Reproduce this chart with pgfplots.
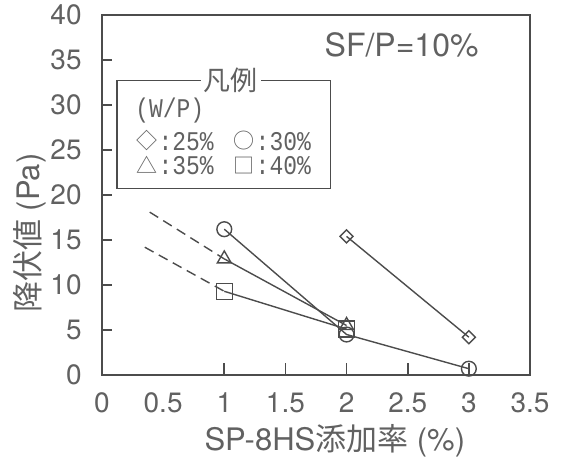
\documentclass[border=0pt]{standalone}
\usepackage{fontspec}
\setmainfont{TeX Gyre Heros}
\newfontfamily\cjk{Noto Sans CJK JP}
\newfontfamily\legfont[FakeStretch=0.85]{Liberation Mono}
\usepackage{pgfplots}
\pgfplotsset{compat=1.18}
\definecolor{ink}{gray}{0.3}
\definecolor{txt}{gray}{0.38}
\newcommand{\sym}[1]{\raisebox{0.6pt}{\smash{\cjk\fontsize{10.5}{12}\selectfont #1}}\hspace{0.5pt}}
\begin{document}
\begin{tikzpicture}
\begin{axis}[name=ax, scale only axis, width=214pt, height=180pt,
  xmin=0, xmax=3.5, ymin=0, ymax=40,
  xtick={0,0.5,1,1.5,2,2.5,3,3.5},
  ytick={0,5,10,15,20,25,30,35,40},
  minor xtick={1,1.5,2,2.5,3},
  tick align=inside, tick pos=left,
  major tick length=5pt, minor tick length=6pt,
  axis line style={ink, line width=0.8pt},
  every tick/.style={ink, line width=0.8pt},
  every major x tick/.append style={draw=none},
  /pgf/number format/assume math mode=true,
  xticklabel style={font=\fontsize{14}{16}\selectfont, text=txt, inner sep=1pt, yshift=-7.5pt},
  yticklabel style={font=\fontsize{14}{16}\selectfont, text=txt, inner sep=1pt, xshift=-9pt},
  xlabel={SP-8HS{\cjk 添加率} (\%)},
  xlabel style={at={(axis description cs:0.544,-0.183)}, anchor=center, font=\fontsize{15.5}{18}\selectfont, text=txt},
  ylabel={{\cjk 降伏値} (Pa)},
  ylabel style={at={(axis description cs:-0.168,0.394)}, anchor=center, font=\fontsize{15.5}{18}\selectfont, text=txt},
  clip=false,
]
% W/P = 25%
\addplot[ink, line width=0.7pt, mark=square, mark size=2.3pt, mark options={rotate=45, solid}] coordinates {(2,15.4) (3,4.2)};
% W/P = 30%
\addplot[ink, line width=0.7pt, mark=o, mark size=3.7pt, mark options={solid}] coordinates {(1,16.2) (2,4.5) (3,0.7)};
% W/P = 35%
\addplot[ink, line width=0.7pt, mark=triangle, mark size=4pt, mark options={solid}] coordinates {(1,12.9) (2,5.5)};
% W/P = 40%
\addplot[ink, line width=0.7pt, mark=square, mark size=4pt, mark options={solid}] coordinates {(1,9.3) (2,5.1)};
% extrapolations
\addplot[ink, line width=0.7pt, dash pattern=on 5pt off 3pt] coordinates {(0.39,18.1) (1,12.9)};
\addplot[ink, line width=0.7pt, dash pattern=on 5pt off 3pt] coordinates {(0.35,14.2) (1,9.3)};

\node[text=txt, font=\fontsize{16}{18}\selectfont, anchor=center] at (axis description cs:0.70,0.917) {SF/P=10\%};

\draw[ink, line width=0.6pt] (axis description cs:0.035,0.819) rectangle (axis description cs:0.533,0.519);
\node[fill=white, inner xsep=1.5pt, inner ysep=0pt, text=txt, font=\cjk\fontsize{13.5}{14}\selectfont] at (axis description cs:0.301,0.819) {凡例};
\node[anchor=base west, inner sep=0pt, text=txt, font=\legfont\fontsize{13.5}{14}\selectfont] at (axis description cs:0.077,0.714) {(W/P)};
\node[anchor=base west, inner sep=0pt, text=txt, font=\legfont\fontsize{13.5}{11.5}\selectfont] at (axis description cs:0.080,0.625)
  {\begin{tabular}[t]{@{}l@{\hspace{10pt}}l@{}}
   \sym{◇}:25\% & \sym{○}:30\%\\
   \sym{△}:35\% & \sym{□}:40\%
   \end{tabular}};
\end{axis}
\path ([xshift=-51pt,yshift=-41pt]ax.south west) rectangle ([xshift=15.5pt,yshift=7.5pt]ax.north east);
\end{tikzpicture}
\end{document}
